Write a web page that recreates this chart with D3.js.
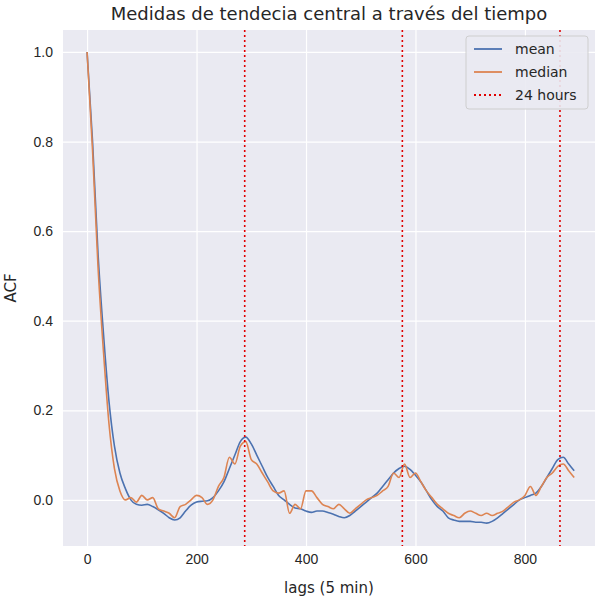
<!DOCTYPE html>
<head>
  <meta charset="utf-8">
  <script src="https://d3js.org/d3.v7.min.js"></script>
  <style>
    body { margin:0; background:#fff; font-family:"DejaVu Sans", sans-serif; }
    .grid line { stroke:#fff; stroke-width:1.2px; }
    .tick text { font-size:14px; fill:#262626; }
  </style>
</head>
<body>
  <svg width="600" height="600"></svg>
  <script>
    var lags = d3.range(0, 900, 10);
    var meanVals = [1.0,0.8,0.55,0.37,0.22,0.12,0.06,0.025,0.0,-0.01,-0.012,-0.01,-0.015,-0.022,-0.03,-0.04,-0.045,-0.04,-0.025,-0.012,-0.005,-0.003,-0.002,0.005,0.02,0.04,0.07,0.1,0.13,0.14,0.125,0.1,0.075,0.05,0.03,0.01,0.0,-0.01,-0.018,-0.02,-0.025,-0.028,-0.025,-0.025,-0.028,-0.032,-0.037,-0.04,-0.035,-0.025,-0.015,-0.005,0.005,0.015,0.03,0.045,0.06,0.07,0.075,0.068,0.055,0.04,0.02,0.0,-0.015,-0.025,-0.04,-0.045,-0.048,-0.048,-0.048,-0.05,-0.05,-0.052,-0.048,-0.04,-0.03,-0.02,-0.01,0.0,0.005,0.01,0.015,0.03,0.05,0.07,0.09,0.095,0.08,0.065];
    var medianVals = [1.0,0.78,0.52,0.33,0.17,0.07,0.02,0.0,0.005,-0.005,0.01,0.0,0.005,-0.02,-0.025,-0.03,-0.04,-0.015,-0.01,0.0,0.01,0.005,-0.01,0.0,0.03,0.05,0.095,0.08,0.12,0.13,0.09,0.08,0.06,0.04,0.02,0.015,0.02,-0.03,-0.01,-0.02,0.02,0.02,0.005,-0.01,-0.015,-0.02,-0.01,-0.02,-0.03,-0.02,-0.01,0.0,0.005,0.01,0.02,0.03,0.06,0.05,0.08,0.05,0.06,0.04,0.02,0.005,-0.01,-0.02,-0.03,-0.035,-0.04,-0.03,-0.025,-0.03,-0.035,-0.03,-0.035,-0.03,-0.025,-0.015,-0.005,0.0,0.01,0.03,0.01,0.03,0.05,0.06,0.075,0.08,0.065,0.05];
    var dayLags = [288, 576, 864];

    var svg = d3.select("svg");
    var m = {top:30, right:5, bottom:54, left:63};
    var w = 600 - m.left - m.right, h = 600 - m.top - m.bottom;
    var x = d3.scaleLinear().domain([-44, 928]).range([0, w]);
    var y = d3.scaleLinear().domain([-0.103, 1.049]).range([h, 0]);
    var g = svg.append("g").attr("transform", "translate(" + m.left + "," + m.top + ")");
    g.append("rect").attr("width", w).attr("height", h).attr("fill", "#eaeaf2");

    var xa = g.append("g").attr("class", "grid").attr("transform", "translate(0," + h + ")")
      .call(d3.axisBottom(x).tickValues([0,200,400,600,800]).tickSize(-h).tickPadding(8));
    var ya = g.append("g").attr("class", "grid")
      .call(d3.axisLeft(y).tickValues([0,0.2,0.4,0.6,0.8,1.0]).tickFormat(d3.format(".1f")).tickSize(-w).tickPadding(10));
    [xa, ya].forEach(function(a){ a.select(".domain").remove(); });

    function line(vals) {
      return d3.line().curve(d3.curveMonotoneX).x(function(d,i){ return x(lags[i]); }).y(function(d){ return y(d); })(vals);
    }
    g.append("path").attr("d", line(meanVals)).attr("fill","none").attr("stroke","#4c72b0").attr("stroke-width",1.6);
    g.append("path").attr("d", line(medianVals)).attr("fill","none").attr("stroke","#dd8452").attr("stroke-width",1.6);
    g.selectAll(".day").data(dayLags).enter().append("line")
      .attr("x1", function(d){ return x(d); }).attr("x2", function(d){ return x(d); })
      .attr("y1", 0).attr("y2", h).attr("stroke","#e00000").attr("stroke-width",1.6).attr("stroke-dasharray","2,3");

    svg.append("text").attr("x", 329).attr("y", 20).attr("text-anchor","middle").attr("font-size",18).attr("fill","#262626")
      .text("Medidas de tendecia central a través del tiempo");
    svg.append("text").attr("x", m.left + w/2).attr("y", 593).attr("text-anchor","middle").attr("font-size",15).attr("fill","#262626").text("lags (5 min)");
    svg.append("text").attr("transform","translate(16," + (m.top + h/2) + ") rotate(-90)").attr("text-anchor","middle").attr("font-size",15).attr("fill","#262626").text("ACF");

    var lg = svg.append("g").attr("transform","translate(466,36)");
    lg.append("rect").attr("width",122).attr("height",73).attr("rx",3).attr("fill","#eaeaf2").attr("stroke","#ccc").attr("opacity",0.9);
    var items = [["mean","#4c72b0",null],["median","#dd8452",null],["24 hours","#e00000","2,3"]];
    items.forEach(function(it,i){
      var yy = 13 + i*23;
      lg.append("line").attr("x1",8).attr("x2",36).attr("y1",yy).attr("y2",yy).attr("stroke",it[1]).attr("stroke-width",1.8).attr("stroke-dasharray",it[2]);
      lg.append("text").attr("x",49).attr("y",yy+5).attr("font-size",14).attr("fill","#262626").text(it[0]);
    });
  </script>
</body>
